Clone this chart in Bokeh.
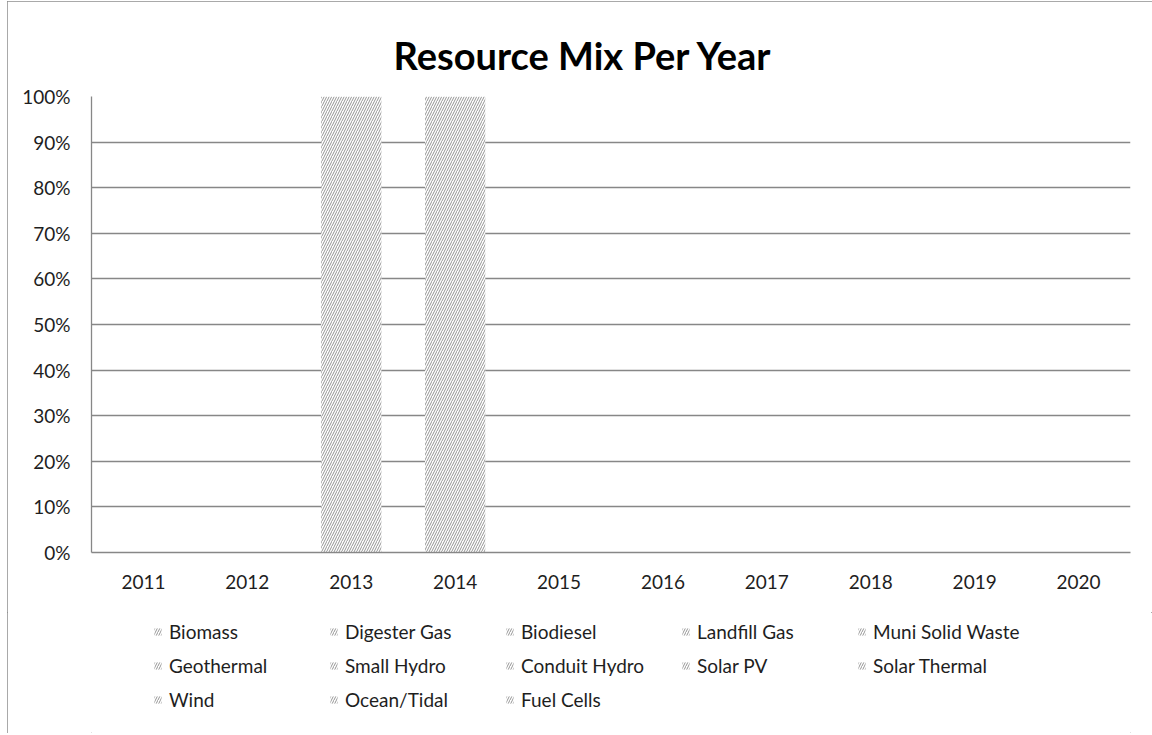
from bokeh.plotting import figure
from bokeh.layouts import column, row
from bokeh.models import Range1d, NumeralTickFormatter, Legend, LegendItem, FixedTicker, Spacer
from bokeh.embed import file_html
from bokeh.resources import INLINE

years = ["2011", "2012", "2013", "2014", "2015", "2016", "2017", "2018", "2019", "2020"]
series_names = ["Biomass", "Digester Gas", "Biodiesel", "Landfill Gas", "Muni Solid Waste",
                "Geothermal", "Small Hydro", "Conduit Hydro", "Solar PV", "Solar Thermal",
                "Wind", "Ocean/Tidal", "Fuel Cells"]

biomass          = [0, 0, 0, 0, 0, 0, 0, 0, 0, 0]
digester_gas     = [0, 0, 0, 0, 0, 0, 0, 0, 0, 0]
biodiesel        = [0, 0, 0, 0, 0, 0, 0, 0, 0, 0]
landfill_gas     = [0, 0, 0, 0, 0, 0, 0, 0, 0, 0]
muni_solid_waste = [0, 0, 0, 0, 0, 0, 0, 0, 0, 0]
geothermal       = [0, 0, 0, 0, 0, 0, 0, 0, 0, 0]
small_hydro      = [0, 0, 0, 0, 0, 0, 0, 0, 0, 0]
conduit_hydro    = [0, 0, 0, 0, 0, 0, 0, 0, 0, 0]
solar_pv         = [0, 0, 1.0, 1.0, 0, 0, 0, 0, 0, 0]
solar_thermal    = [0, 0, 0, 0, 0, 0, 0, 0, 0, 0]
wind             = [0, 0, 0, 0, 0, 0, 0, 0, 0, 0]
ocean_tidal      = [0, 0, 0, 0, 0, 0, 0, 0, 0, 0]
fuel_cells       = [0, 0, 0, 0, 0, 0, 0, 0, 0, 0]

y_ticks = [0, 0.1, 0.2, 0.3, 0.4, 0.5, 0.6, 0.7, 0.8, 0.9, 1.0]

series_values = [biomass, digester_gas, biodiesel, landfill_gas, muni_solid_waste,
                 geothermal, small_hydro, conduit_hydro, solar_pv, solar_thermal,
                 wind, ocean_tidal, fuel_cells]

data = {"year": years}
for name, vals in zip(series_names, series_values):
    data[name] = vals

FONT = "Lato"
GRID = "#878787"
TEXT = "#1e1e1e"
HATCH = dict(fill_color="white", line_color=None, hatch_pattern="/",
             hatch_color="#949494", hatch_scale=5, hatch_weight=1)

CHART_W = 1145
MAIN_H = 611
LEG_H = 732 - MAIN_H

p = figure(x_range=years, y_range=Range1d(0, 1), width=CHART_W, height=MAIN_H,
           output_backend="svg", toolbar_location=None,
           min_border_left=84, min_border_right=22, min_border_top=95,
           min_border_bottom=60,
           title="Resource Mix Per Year")

p.title.align = "left"
p.title.offset = 302
p.title.text_font = FONT
p.title.text_font_size = "38px"
p.title.text_font_style = "bold"
p.title.text_color = "#000000"
p.title.vertical_align = "top"
p.title.standoff = 33

renderers = p.vbar_stack(series_names, x="year", width=0.58, source=data, **HATCH)

p.outline_line_color = None
p.xgrid.grid_line_color = None
p.ygrid.grid_line_color = GRID
p.ygrid.grid_line_width = 1.3

p.yaxis.ticker = FixedTicker(ticks=y_ticks)
p.yaxis.formatter = NumeralTickFormatter(format="0%")
for ax in (p.xaxis[0], p.yaxis[0]):
    ax.axis_line_color = GRID
    ax.axis_line_width = 1.3
    ax.major_tick_line_color = None
    ax.minor_tick_line_color = None
    ax.major_label_text_font = FONT
    ax.major_label_text_font_size = "19px"
    ax.major_label_text_color = TEXT
p.xaxis.major_label_standoff = 16
p.yaxis.major_label_standoff = 15

# legend strip below the chart
lf = figure(width=CHART_W, height=LEG_H, output_backend="svg", toolbar_location=None,
            x_range=Range1d(0, 1), y_range=Range1d(0, 1),
            min_border_left=84, min_border_right=22, min_border_top=0, min_border_bottom=0)
lf.axis.visible = False
lf.grid.visible = False
lf.outline_line_color = None
proxies = [lf.vbar(x=[-10], top=[0], width=0.5, **HATCH) for _ in series_names]
items = [LegendItem(label=n, renderers=[r]) for n, r in zip(series_names, proxies)]
legend = Legend(items=items, ncols=5, orientation="horizontal",
                location=(62, 22),
                border_line_color=None, background_fill_alpha=0,
                padding=0, margin=0, glyph_width=9, glyph_height=9,
                label_standoff=7, label_width=149, label_height=20, spacing=11,
                label_text_font=FONT, label_text_font_size="19px",
                label_text_color=TEXT)
lf.add_layout(legend, "center")

chart = column(p, lf, spacing=0)
chart.styles = {"outline": "1px solid #8c8c8c", "outline-offset": "-1px"}
layout = row(Spacer(width=7), column(Spacer(height=1), chart, spacing=0), spacing=0)

open("out.html", "w").write(file_html(layout, INLINE))
